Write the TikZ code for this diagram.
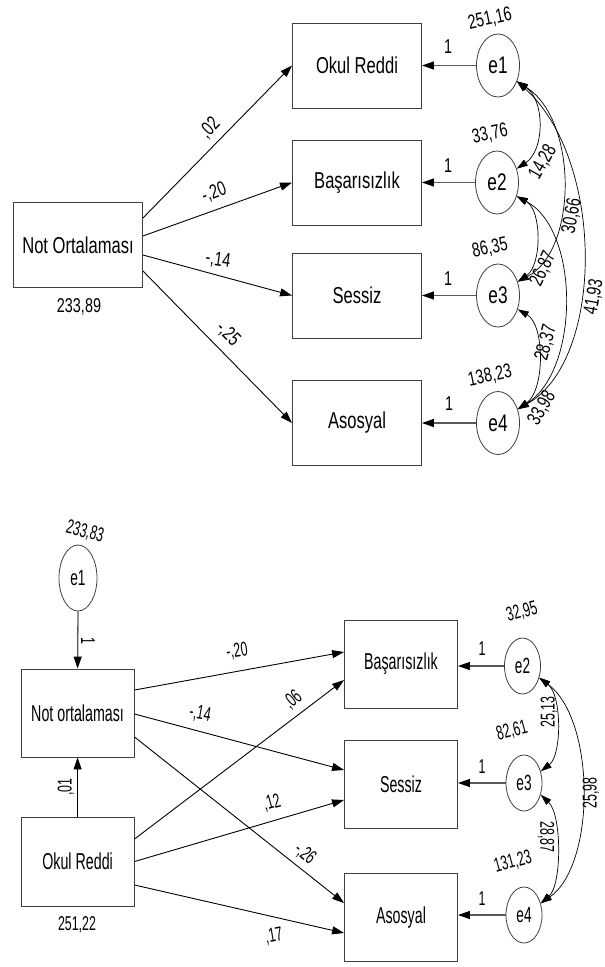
\documentclass[tikz,border=0pt]{standalone}
\usepackage{fontspec}
\setmainfont{Liberation Sans}
\newfontfamily\boxfont[FakeStretch=0.72]{Liberation Sans}
\newfontfamily\boxfontb[FakeStretch=0.62]{Liberation Sans}
\usetikzlibrary{shapes.geometric,arrows.meta}
\begin{document}
\begin{tikzpicture}[x=1pt,y=-1pt,
  obsbox/.style={draw=black!75, line width=0.9pt, minimum width=129pt, minimum height=85pt, inner sep=0pt, font=\boxfont\fontsize{23}{23}\selectfont},
  obsboxb/.style={draw=black!75, line width=0.9pt, minimum width=113pt, minimum height=88pt, inner sep=0pt, font=\boxfontb\fontsize{23}{23}\selectfont},
  err/.style={draw=black!75, line width=0.8pt, ellipse, minimum width=43pt, minimum height=63pt, inner sep=0pt, font=\boxfont\fontsize{24}{24}\selectfont},
  errb/.style={draw=black!75, line width=0.8pt, ellipse, minimum width=36pt, minimum height=56pt, inner sep=0pt, font=\boxfontb\fontsize{22}{22}\selectfont},
  lab/.style={font=\boxfont\fontsize{20}{20}\selectfont, inner sep=0pt},
  labb/.style={font=\boxfontb\fontsize{20}{20}\selectfont, inner sep=0pt},
  reg/.style={-{Triangle[length=12pt,width=8pt]}, line width=0.9pt},
  ereg/.style={-{Triangle[length=12pt,width=8pt,color=black,fill=black]}, line width=1.3pt, draw=black!65},
  cov/.style={{Triangle[length=11pt,width=7pt]}-{Triangle[length=11pt,width=7pt]}, line width=0.7pt},
]
\fill[white] (0,0) rectangle (605,967);
\useasboundingbox (0,0) rectangle (605,967);

% ---------- top model ----------
\node[obsbox] (nt) at (78,245) {Not Ortalaması};
\node[obsbox] (or) at (357,65.5) {Okul Reddi};
\node[obsbox] (ba) at (357,182.5) {Başarısızlık};
\node[obsbox] (se) at (357,295.5) {Sessiz};
\node[obsbox] (as) at (357,423) {Asosyal};
\node[err] (e1) at (498,65.5) {e1};
\node[err] (e2) at (497,182.5) {e2};
\node[err] (e3) at (498,295.5) {e3};
\node[err] (e4) at (498,423) {e4};

\draw[reg] ([yshift=27pt]nt.east) -- (or.west);
\draw[reg] ([yshift=9pt]nt.east) -- (ba.west);
\draw[reg] ([yshift=-10pt]nt.east) -- (se.west);
\draw[reg] ([yshift=-26pt]nt.east) -- (as.west);
\draw[ereg] (e1.west) -- (e1.west -| or.east);
\draw[ereg] (e2.west) -- (e2.west -| ba.east);
\draw[ereg] (e3.west) -- (e3.west -| se.east);
\draw[ereg] (e4.west) -- (e4.west -| as.east);

\draw[cov] (e1.-40) .. controls (545,100) and (545,150) .. (e2.35);
\draw[cov] (e1.-40) .. controls (578,120) and (578,250) .. (e3.35);
\draw[cov] (e1.-40) .. controls (605,160) and (605,360) .. (e4.35);
\draw[cov] (e2.-35) .. controls (542,210) and (542,265) .. (e3.35);
\draw[cov] (e2.-35) .. controls (580,230) and (580,370) .. (e4.35);
\draw[cov] (e3.-35) .. controls (545,325) and (545,390) .. (e4.35);

\node[lab, rotate=46] (l02) at (210,128) {,02};
\node[lab, rotate=20] (l20) at (214,193) {-,20};
\node[lab, rotate=-8] (l14) at (218,260) {-,14};
\node[lab, rotate=-45] (l25) at (228,334) {-,25};
\node[lab] (v0) at (79,307) {233,89};
\node[lab] (o1) at (448,47) {1};
\node[lab] (o2) at (448,166) {1};
\node[lab] (o3) at (448,279) {1};
\node[lab] (o4) at (449,404) {1};
\node[lab, rotate=12] (v1) at (490,19) {251,16};
\node[lab, rotate=12] (v2) at (490,134) {33,76};
\node[lab, rotate=12] (v3) at (490,248) {86,35};
\node[lab, rotate=12] (v4) at (490,376) {138,23};
\node[lab, rotate=60] (c12) at (543,162) {14,28};
\node[lab, rotate=80] (c13) at (572,216) {30,66};
\node[lab, rotate=80] (c14) at (594,297) {41,93};
\node[lab, rotate=65] (c23) at (543,269) {26,87};
\node[lab, rotate=75] (c24) at (546,343) {28,37};
\node[lab, rotate=60] (c34) at (542,408) {33,98};

% ---------- bottom model ----------
\node[errb, minimum width=38pt, minimum height=66pt] (f1) at (78,578) {e1};
\node[obsboxb] (nob) at (77.6,713) {Not ortalaması};
\node[obsboxb, minimum height=89pt] (okb) at (77.6,861.5) {Okul Reddi};
\node[obsboxb] (bab) at (401,664) {Başarısızlık};
\node[obsboxb] (seb) at (401,784) {Sessiz};
\node[obsboxb] (asb) at (401,917.5) {Asosyal};
\node[errb] (f2) at (522.5,666) {e2};
\node[errb] (f3) at (524,783) {e3};
\node[errb] (f4) at (524,915) {e4};

\draw[ereg] (f1.south) -- (nob.north);
\draw[reg] (okb.north) -- (nob.south);
\draw[reg] ([yshift=23pt]nob.east) -- ([yshift=12pt]bab.west);
\draw[reg] ([yshift=-1pt]nob.east) -- ([yshift=14pt]seb.west);
\draw[reg] ([yshift=-24pt]nob.east) -- ([yshift=14.5pt]asb.west);
\draw[reg] ([yshift=22.5pt]okb.east) -- ([yshift=-16pt]bab.west);
\draw[reg] (okb.east) -- ([yshift=-16pt]seb.west);
\draw[reg] ([yshift=-23.5pt]okb.east) -- ([yshift=-15.5pt]asb.west);
\draw[ereg] (f2.west) -- (f2.west -| bab.east);
\draw[ereg] (f3.west) -- (f3.west -| seb.east);
\draw[ereg] (f4.west) -- (f4.west -| asb.east);

\draw[cov] (f2.-35) .. controls (562,695) and (562,755) .. (f3.35);
\draw[cov] (f3.-35) .. controls (562,815) and (562,885) .. (f4.35);
\draw[cov] (f2.-35) .. controls (596,720) and (596,865) .. (f4.35);

\node[labb, rotate=8] (m20) at (237,651) {-,20};
\node[labb, rotate=-10] (m14) at (200,714) {-,14};
\node[labb, rotate=-40] (m26) at (305,854) {-,26};
\node[labb, rotate=40] (m06) at (293,700) {,06};
\node[labb, rotate=15] (m12) at (272,803) {,12};
\node[labb, rotate=10] (m17) at (274,936) {,17};
\node[labb, rotate=90] (m01) at (66,787) {,01};
\node[labb, rotate=-90] (p0) at (88,641) {1};
\node[labb, rotate=-15] (w1) at (85,532) {233,83};
\node[labb] (w0) at (77,925) {251,22};
\node[labb] (p2) at (482,649) {1};
\node[labb] (p3) at (482,767) {1};
\node[labb] (p4) at (482,899) {1};
\node[labb, rotate=15] (w2) at (522,612) {32,95};
\node[labb, rotate=15] (w3) at (512,731) {82,61};
\node[labb, rotate=15] (w4) at (513,862) {131,23};
\node[labb, rotate=90] (d23) at (549,712) {25,13};
\node[labb, rotate=-90] (d34) at (546,837) {28,87};
\node[labb, rotate=90] (d24) at (591,793) {25,98};
\end{tikzpicture}
\end{document}
